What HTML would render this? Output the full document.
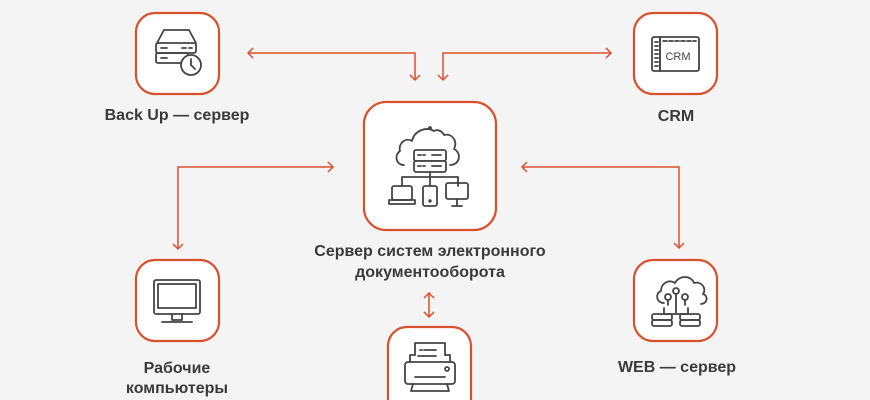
<!DOCTYPE html>
<html><head><meta charset="utf-8"><style>
html,body{margin:0;padding:0;background:#f4f4f4;}
svg{display:block}
text{font-family:"Liberation Sans",sans-serif;font-size:16px;fill:#3a3a3a;font-weight:bold;text-anchor:middle;}
</style></head><body>
<svg width="870" height="400" viewBox="0 0 870 400" xmlns="http://www.w3.org/2000/svg">
<rect width="870" height="400" fill="#f4f4f4"/>
<g fill="#fff" stroke="#d9512c" stroke-width="2.2">
<rect x="136" y="13" width="83" height="81" rx="19"/>
<rect x="634" y="13" width="83" height="81" rx="19"/>
<rect x="364" y="102" width="132" height="128" rx="22"/>
<rect x="136" y="260" width="83" height="81" rx="19"/>
<rect x="634" y="260" width="83" height="81" rx="19"/>
<rect x="388" y="327" width="83" height="90" rx="19"/>
</g>
<g fill="none" stroke="#d9512c" stroke-width="1.5">
<path d="M248 53H415V80M443 80V53H611"/>
<path d="M253 48l-5 5 5 5M410 75l5 5 5-5M438 75l5 5 5-5M606 48l5 5-5 5"/>
<path d="M333 167H178V249M328 162l5 5-5 5M173 244l5 5 5-5"/>
<path d="M522 167H679V248M527 162l-5 5 5 5M674 243l5 5 5-5"/>
<path d="M429 293V317M424 298l5-5 5 5M424 312l5 5 5-5"/>
</g>
<g fill="none" stroke="#444" stroke-width="1.8" stroke-linecap="round" stroke-linejoin="round">
<path d="M157 43l7-13h25l7 13"/>
<rect x="156" y="43" width="40" height="10" rx="2"/>
<rect x="156" y="53" width="32" height="10" rx="2"/>
<path d="M161 48h6M161 58h6M182 48h4M189 48h3"/>
<circle cx="191" cy="65" r="10" fill="#fff"/>
<path d="M191 59v6l4 4"/>
<rect x="652" y="37" width="47" height="34" rx="2"/>
<path d="M660 37v34M663 41h33" stroke-dasharray="4 2"/>
<path d="M660 37v34"/>
<path d="M655 42h3M655 46h3M655 50h3M655 54h3M655 58h3M655 62h3M655 66h3"/>
<path d="M404 165c-8 0-10-10-4-14c-2-8 6-14 12-10c2-10 14-15 22-10c4-2 8 0 10 4c8-2 14 6 10 14c8 4 6 16-4 16"/>
<circle cx="430" cy="128" r="1" fill="#444"/>
<rect x="414" y="150" width="32" height="11" rx="2" fill="#fff"/>
<rect x="414" y="161" width="32" height="11" rx="2" fill="#fff"/>
<path d="M418 155h3M423 155h2M432 155h9M418 166h3M423 166h2M432 166h9"/>
<path d="M430 172v14M402 186v-9h56v9"/>
<rect x="392" y="186" width="20" height="14" rx="2"/>
<path d="M389 200v4h26v-4z"/>
<rect x="423" y="186" width="14" height="20" rx="2"/>
<circle cx="430" cy="201" r="0.8" fill="#444"/>
<rect x="446" y="183" width="22" height="16" rx="2"/>
<path d="M457 199v6M452 206h10"/>
<rect x="154" y="280" width="46" height="34" rx="2"/>
<rect x="158" y="284" width="38" height="24"/>
<path d="M172 314v6h10v-6M162 322h30"/>
<path d="M664 303c-8 0-9-10-3-12c0-8 8-12 14-8c4-8 16-8 19 0c8-2 13 6 9 11c6 2 4 10-2 10"/>
<path d="M676 304v10M664 314v-6M688 314v-6M664 314h24"/>
<circle cx="668" cy="297" r="3"/><circle cx="676" cy="291" r="3"/><circle cx="685" cy="297" r="3"/>
<path d="M668 300v5M685 300v5M676 294v10"/>
<rect x="652" y="314" width="20" height="6" rx="2"/><rect x="652" y="320" width="20" height="6" rx="2"/>
<rect x="680" y="314" width="20" height="6" rx="2"/><rect x="680" y="320" width="20" height="6" rx="2"/>
<path d="M415 355v-12h30v12"/>
<path d="M410 362v-7h5M445 355h5v7"/>
<rect x="405" y="362" width="50" height="22" rx="3"/>
<path d="M420 350h2M424 350h12M418 356h18"/>
<circle cx="447" cy="369" r="2"/>
<path d="M413 384l-2 7h38l-2-7M415 377h30"/>
</g>
<text x="678" y="60" style="font-size:11px;font-weight:normal;fill:#444">CRM</text>
<text x="177" y="120">Back Up — сервер</text>
<text x="676" y="121">CRM</text>
<text x="430" y="256">Сервер систем электронного</text>
<text x="430" y="277">документооборота</text>
<text x="177" y="373">Рабочие</text>
<text x="177" y="393">компьютеры</text>
<text x="677" y="372">WEB — сервер</text>
</svg>
</body></html>
